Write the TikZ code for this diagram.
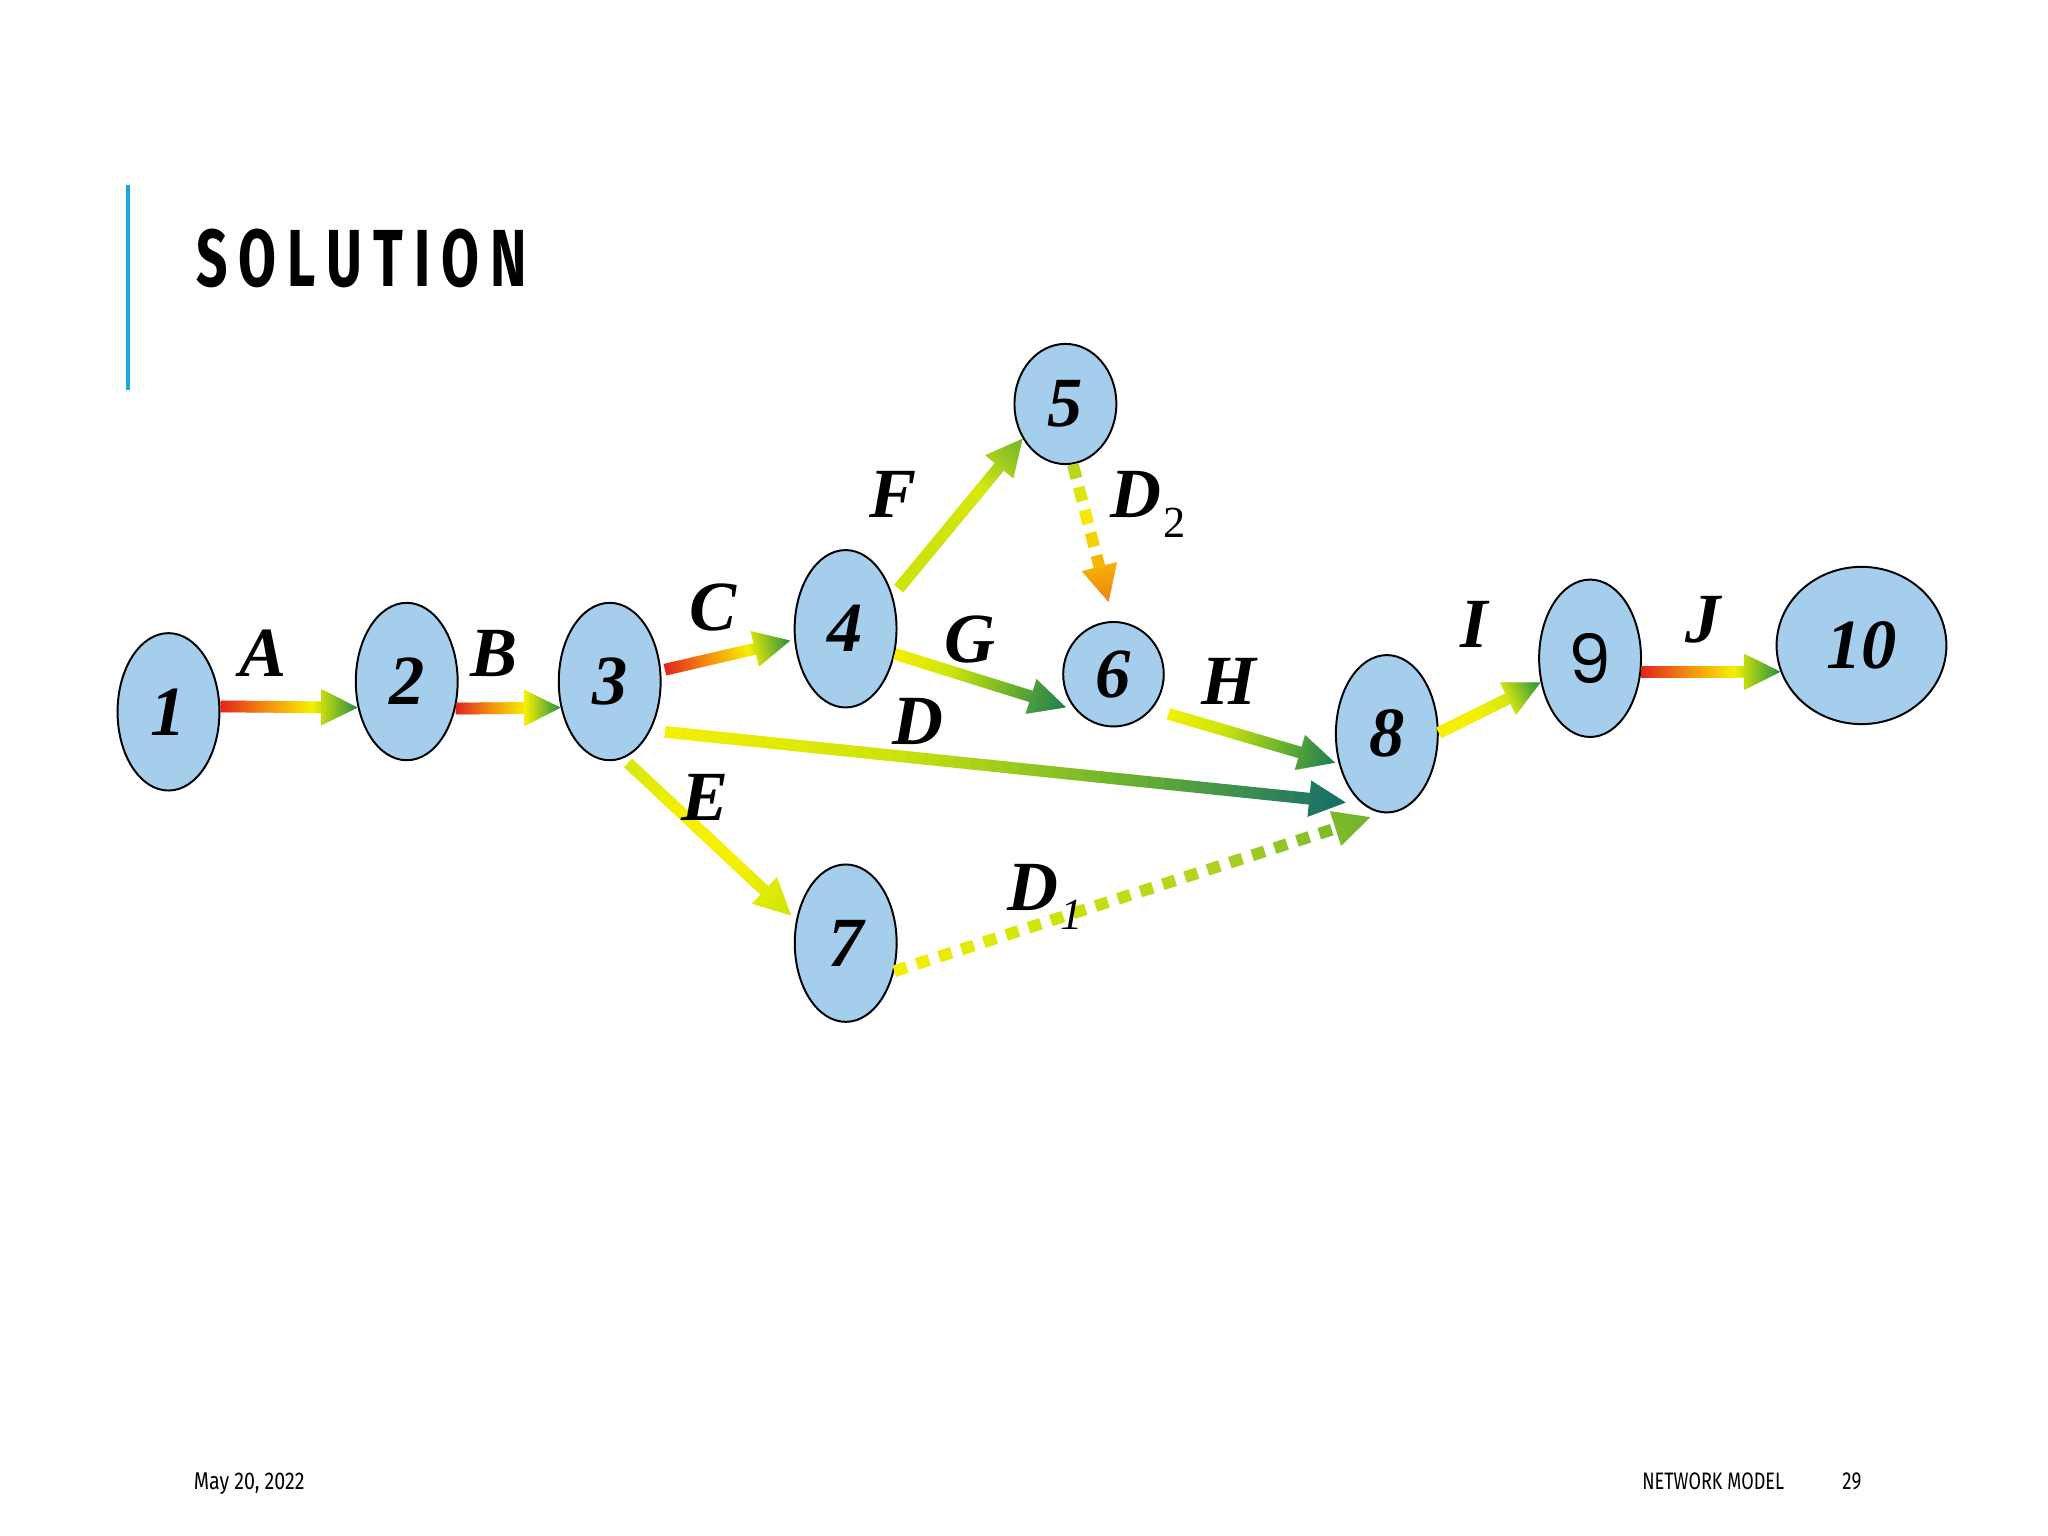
\documentclass[tikz,border=0pt]{standalone}
\usepackage{fontspec}
\setmainfont{Liberation Serif}
\newfontfamily\ninefont{Poppins}
\newfontfamily\titlefont{Fira Sans}
\newfontfamily\footfont{Fira Sans}
\usetikzlibrary{calc,shapes.geometric}

\definecolor{nodefill}{RGB}{165,205,236}
\definecolor{barblue}{RGB}{29,168,224}
\definecolor{gRed}{RGB}{225,35,30}
\definecolor{gOrange}{RGB}{245,140,15}
\definecolor{gYellow}{RGB}{245,240,0}
\definecolor{gGreen}{RGB}{35,145,65}
\definecolor{gTeal}{RGB}{20,110,105}
\definecolor{gYG}{RGB}{205,228,10}
\definecolor{gMidG}{RGB}{110,180,45}
\definecolor{gDkG}{RGB}{30,125,80}
\definecolor{gLY}{RGB}{215,232,15}
\definecolor{gOlive}{RGB}{175,210,35}
\definecolor{gAmber}{RGB}{245,190,5}
\definecolor{gOrTwo}{RGB}{240,130,15}

% arrow geometry (pt)
\def\gaheadlen{14}
\def\gahead{7}
\def\gahw{2.25}
\def\gaperiod{9}

\newcommand\gasetcolor[1]{%
  \pgfmathsetmacro\gatt{max(0,min(3,3*(#1)))}%
  \ifdim\gatt pt<1pt
    \pgfmathsetmacro\gapc{100*\gatt}\colorlet{gacur}{gaCb!\gapc!gaCa}%
  \else\ifdim\gatt pt<2pt
    \pgfmathsetmacro\gapc{100*(\gatt-1)}\colorlet{gacur}{gaCc!\gapc!gaCb}%
  \else
    \pgfmathsetmacro\gapc{100*(\gatt-2)}\colorlet{gacur}{gaCd!\gapc!gaCc}%
  \fi\fi}

% #1 start, #2 end, #3 start gap (px), #4 end gap (px), #5-#8 colours, #9 dash length (px, 0 = solid)
\newcommand\garrow[9]{%
  \path #1 coordinate (gaS) #2 coordinate (gaE);
  \pgfpointdiff{\pgfpointanchor{gaS}{center}}{\pgfpointanchor{gaE}{center}}%
  \pgfgetlastxy{\gadx}{\gady}%
  \pgfmathsetmacro\gaang{atan2(\gady,\gadx)}%
  \pgfmathsetmacro\galen{veclen(\gadx,\gady)}%
  \pgfmathsetmacro\gaA{(#3)*0.5}%
  \pgfmathsetmacro\gaB{\galen-(#4)*0.5}%
  \pgfmathsetmacro\gaH{\gaB-\gaheadlen}%
  \colorlet{gaCa}{#5}\colorlet{gaCb}{#6}\colorlet{gaCc}{#7}\colorlet{gaCd}{#8}%
  \begin{scope}[shift={(gaS)},rotate=\gaang]
    \ifdim #9pt>0pt
      \pgfmathtruncatemacro\gan{floor((\gaH-\gaA)/\gaperiod)}%
      \foreach \i in {0,...,\gan}{%
        \pgfmathsetmacro\gaX{\gaA+\i*\gaperiod}%
        \pgfmathsetmacro\gaY{min(\gaX+#9*0.5,\gaH)}%
        \ifdim\gaX pt<\gaH pt
          \pgfmathsetmacro\gat{((\gaX+\gaY)/2-\gaA)/(\gaB-\gaA)}%
          \gasetcolor{\gat}%
          \fill[gacur] (\gaX pt,-\gahw pt) -- (\gaY pt,-\gahw pt) -- (\gaY pt,\gahw pt) -- (\gaX pt,\gahw pt) -- cycle;
        \fi
      }%
    \else
      \pgfmathsetmacro\gastep{(\gaH-\gaA)/40}%
      \foreach \i in {0,...,39}{%
        \pgfmathsetmacro\gaX{\gaA+\i*\gastep}%
        \pgfmathsetmacro\gaY{\gaX+\gastep+0.3}%
        \pgfmathsetmacro\gat{(\gaX+0.5*\gastep-\gaA)/(\gaB-\gaA)}%
        \gasetcolor{\gat}%
        \fill[gacur] (\gaX pt,-\gahw pt) -- (\gaY pt,-\gahw pt) -- (\gaY pt,\gahw pt) -- (\gaX pt,\gahw pt) -- cycle;
      }%
    \fi
    \pgfmathsetmacro\gahs{(\gaB-\gaH)/14}%
    \foreach \i in {0,...,13}{%
      \pgfmathsetmacro\gaX{\gaH+\i*\gahs}%
      \pgfmathsetmacro\gaY{min(\gaX+\gahs+0.3,\gaB)}%
      \pgfmathsetmacro\gwa{\gahead*(\gaB-\gaX)/(\gaB-\gaH)}%
      \pgfmathsetmacro\gwb{\gahead*(\gaB-\gaY)/(\gaB-\gaH)}%
      \pgfmathsetmacro\gat{(\gaX+0.5*\gahs-\gaA)/(\gaB-\gaA)}%
      \gasetcolor{\gat}%
      \fill[gacur] (\gaX pt,-\gwa pt) -- (\gaY pt,-\gwb pt) -- (\gaY pt,\gwb pt) -- (\gaX pt,\gwa pt) -- cycle;
    }%
  \end{scope}%
}

\tikzset{
  evt/.style={ellipse, draw=black, line width=0.75pt, fill=nodefill, inner sep=0pt,
    minimum width=39pt, minimum height=60.25pt,
    font=\fontsize{27pt}{27pt}\selectfont\bfseries\itshape},
  lab/.style={inner sep=0pt, anchor=base, font=\fontsize{27pt}{27pt}\selectfont\bfseries\itshape},
  sublab/.style={inner sep=0pt, anchor=base, font=\fontsize{17pt}{17pt}\selectfont},
  foot/.style={inner sep=0pt, anchor=base west},
}

\begin{document}
\begin{tikzpicture}[x=0.5pt,y=-0.5pt]
\useasboundingbox (0,0) rectangle (1568,1176);
\fill[white] (0,0) rectangle (1568,1176);

% title bar and title
\fill[barblue] (96.5,141.7) rectangle (99.5,298.6);
\node[foot] (title) at (150,219.5)
  {\resizebox{126.5pt}{22pt}{\titlefont\bfseries S\kern.2em O\kern.2em L\kern.2em U\kern.2em T\kern.2em I\kern.2em O\kern.2em N}};

% events
\node[evt] (n1) at (129,545) {1};
\node[evt] (n2) at (311.4,521.8) {2};
\node[evt] (n3) at (466.8,521.8) {3};
\node[evt] (n4) at (647.4,481.4) {4};
\node[evt, minimum height=46pt] (n5) at (815.7,309.3) {5};
\node[evt, minimum width=38.5pt, minimum height=40pt] (n6) at (852.5,516.2) {6};
\node[evt] (n7) at (647.5,722.1) {7};
\node[evt] (n8) at (1061.8,561.8) {8};
\node[evt, font=\fontsize{26pt}{26pt}\selectfont\ninefont] (n9) at (1217.4,504) {9};
\node[evt, minimum width=65pt, minimum height=60.2pt] (n10) at (1425.2,494.2) {10};

% activities
\garrow{(n1.6)}{(n2.208)}{0}{0}{gRed}{gOrange}{gYellow}{gGreen}{0}
\garrow{(n2.331)}{(n3.208)}{0}{0}{gRed}{gOrange}{gYellow}{gGreen}{0}
\garrow{(n3.12)}{(n4.192)}{3}{3}{gRed}{gOrange}{gYellow}{gGreen}{0}
\garrow{(n3.310)}{(n8.251)}{11}{13}{gYellow}{gYG}{gMidG}{gTeal}{0}
\garrow{(n3.280)}{(n7.155)}{5}{5}{gLY}{gYellow}{gYellow}{gYG}{0}
\garrow{(n4.35)}{(n5.219)}{7}{0}{gYG}{gYG}{gLY}{gMidG}{0}
\garrow{(n4.333)}{(n6.224)}{0}{8}{gYellow}{gYG}{gMidG}{gDkG}{0}
\garrow{(n6.318)}{(n8.212)}{13}{3}{gYellow}{gYG}{gMidG}{gDkG}{0}
\garrow{(n8.1)}{(n9.206)}{0}{0}{gYellow}{gYellow}{gLY}{gGreen}{0}
\garrow{(n9.345)}{(n10.198)}{0}{0}{gRed}{gOrange}{gYellow}{gGreen}{0}
\garrow{(n7.330)}{(n8.267)}{0}{10}{gYellow}{gYG}{gOlive}{gMidG}{10}
\garrow{(n5.277)}{(n6.90)}{0}{15}{gOlive}{gYellow}{gAmber}{gOrTwo}{11}

% activity labels
\node[lab] (lA) at (201,518) {A};
\node[lab] (lB) at (378,518) {B};
\node[lab] (lC) at (546,482.5) {C};
\node[lab] (lD) at (703,569.7) {D};
\node[lab] (lE) at (539.5,628.4) {E};
\node[lab] (lF) at (684,396) {F};
\node[lab] (lG) at (742.7,507.5) {G};
\node[lab] (lH) at (941,539) {H};
\node[lab] (lI) at (1129,495.6) {I};
\node[lab] (lJ) at (1304,491.8) {J};
\node[lab] (lDtwo) at (870,396) {D};
\node[sublab] (lDtwos) at (899.6,411.4) {2};
\node[lab] (lDone) at (791,697.3) {D};
\node[sublab, font=\fontsize{17pt}{17pt}\selectfont\itshape] (lDones) at (820.7,712) {1};

% footer
\node[foot] (date) at (148,1140.4) {\resizebox{42.4pt}{6.4pt}{\footfont May 20, 2022}};
\node[foot] (ftitle) at (1257,1140.4) {\resizebox{54.25pt}{6.4pt}{\footfont NETWORK MODEL}};
\node[foot] (fpage) at (1410.2,1140.4) {\resizebox{7.25pt}{6.4pt}{\footfont 29}};
\end{tikzpicture}
\end{document}
